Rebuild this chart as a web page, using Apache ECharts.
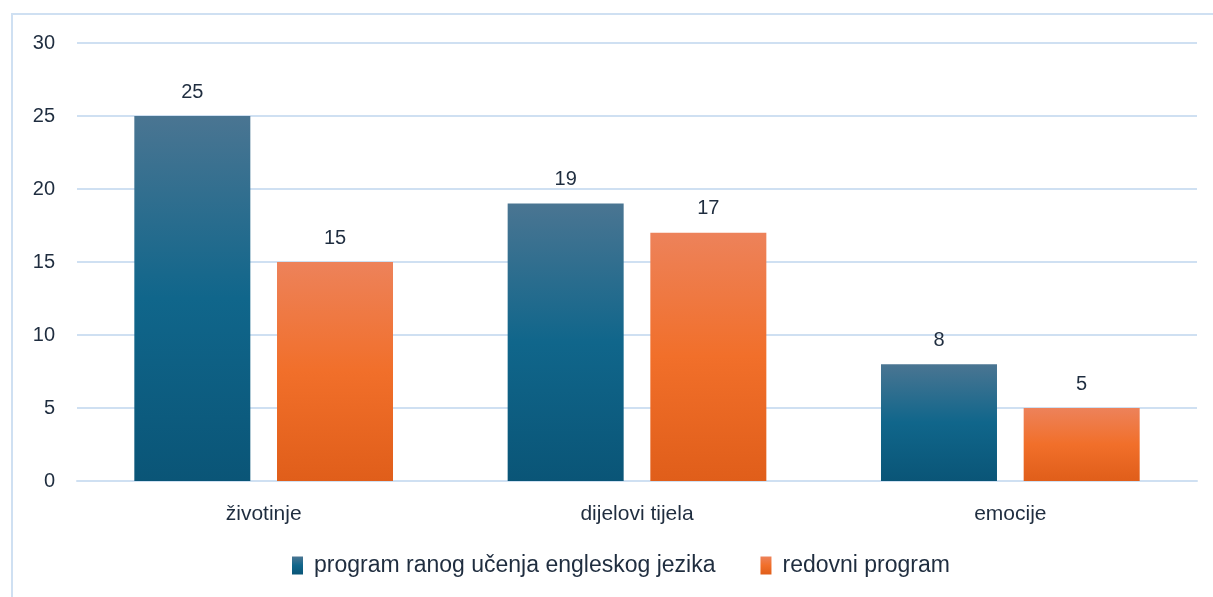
<!DOCTYPE html>
<html>
<head>
<meta charset="utf-8">
<script src="https://cdn.jsdelivr.net/npm/echarts@6/dist/echarts.min.js"></script>
<style>
  html, body { margin: 0; padding: 0; background: #fff; }
  #frame { position: absolute; left: 11px; top: 13px; width: 1220px; height: 600px; border: 2px solid #cfe0f2; box-sizing: border-box; }
  #chart { position: absolute; left: 0; top: 0; width: 1213px; height: 597px; }
</style>
</head>
<body>
<div id="frame"></div>
<div id="chart"></div>
<script>
const categories = ['životinje', 'dijelovi tijela', 'emocije']
const seriesNames = ['program ranog učenja engleskog jezika', 'redovni program']
const earlyProgram = [25, 19, 8]
const regularProgram = [15, 17, 5]
const yTicks = [0, 5, 10, 15, 20, 25, 30]

const textColor = '#1f2d3f'
const font = '"Liberation Sans", Arial, sans-serif'

const blue = new echarts.graphic.LinearGradient(0, 0, 0, 1, [
  { offset: 0, color: '#4a7592' },
  { offset: 0.5, color: '#10668b' },
  { offset: 1, color: '#0a5577' },
])
const orange = new echarts.graphic.LinearGradient(0, 0, 0, 1, [
  { offset: 0, color: '#ed825a' },
  { offset: 0.5, color: '#f16f2a' },
  { offset: 1, color: '#e05e1a' },
])

const chart = echarts.init(document.getElementById('chart'))
chart.setOption({
  animation: false,
  grid: { left: 77, right: 16, top: 43, bottom: 116, containLabel: false },
  legend: {
    bottom: 15,
    left: 287,
    itemWidth: 11,
    itemHeight: 18,
    itemGap: 45,
    icon: 'rect',
    textStyle: { color: textColor, fontSize: 23, fontFamily: font, padding: [0, 0, 0, 6] },
    data: seriesNames,
  },
  xAxis: {
    type: 'category',
    data: categories,
    axisLine: { lineStyle: { color: '#cfe0f2', width: 2 } },
    axisTick: { show: false },
    axisLabel: { color: textColor, fontSize: 21, fontFamily: font, margin: 23 },
  },
  yAxis: {
    type: 'value',
    min: yTicks[0],
    max: yTicks[yTicks.length - 1],
    interval: 5,
    axisLine: { show: false },
    axisTick: { show: false },
    axisLabel: { color: textColor, fontSize: 20, fontFamily: font, margin: 22 },
    splitLine: { lineStyle: { color: '#cfe0f2', width: 2 } },
  },
  series: [
    {
      name: seriesNames[0],
      type: 'bar',
      data: earlyProgram,
      barWidth: 116,
      barGap: '23%',
      itemStyle: { color: blue },
      label: { show: true, position: 'top', distance: 14, color: textColor, fontSize: 20, fontFamily: font },
    },
    {
      name: seriesNames[1],
      type: 'bar',
      data: regularProgram,
      barWidth: 116,
      itemStyle: { color: orange },
      label: { show: true, position: 'top', distance: 14, color: textColor, fontSize: 20, fontFamily: font },
    },
  ],
})
</script>
</body>
</html>
